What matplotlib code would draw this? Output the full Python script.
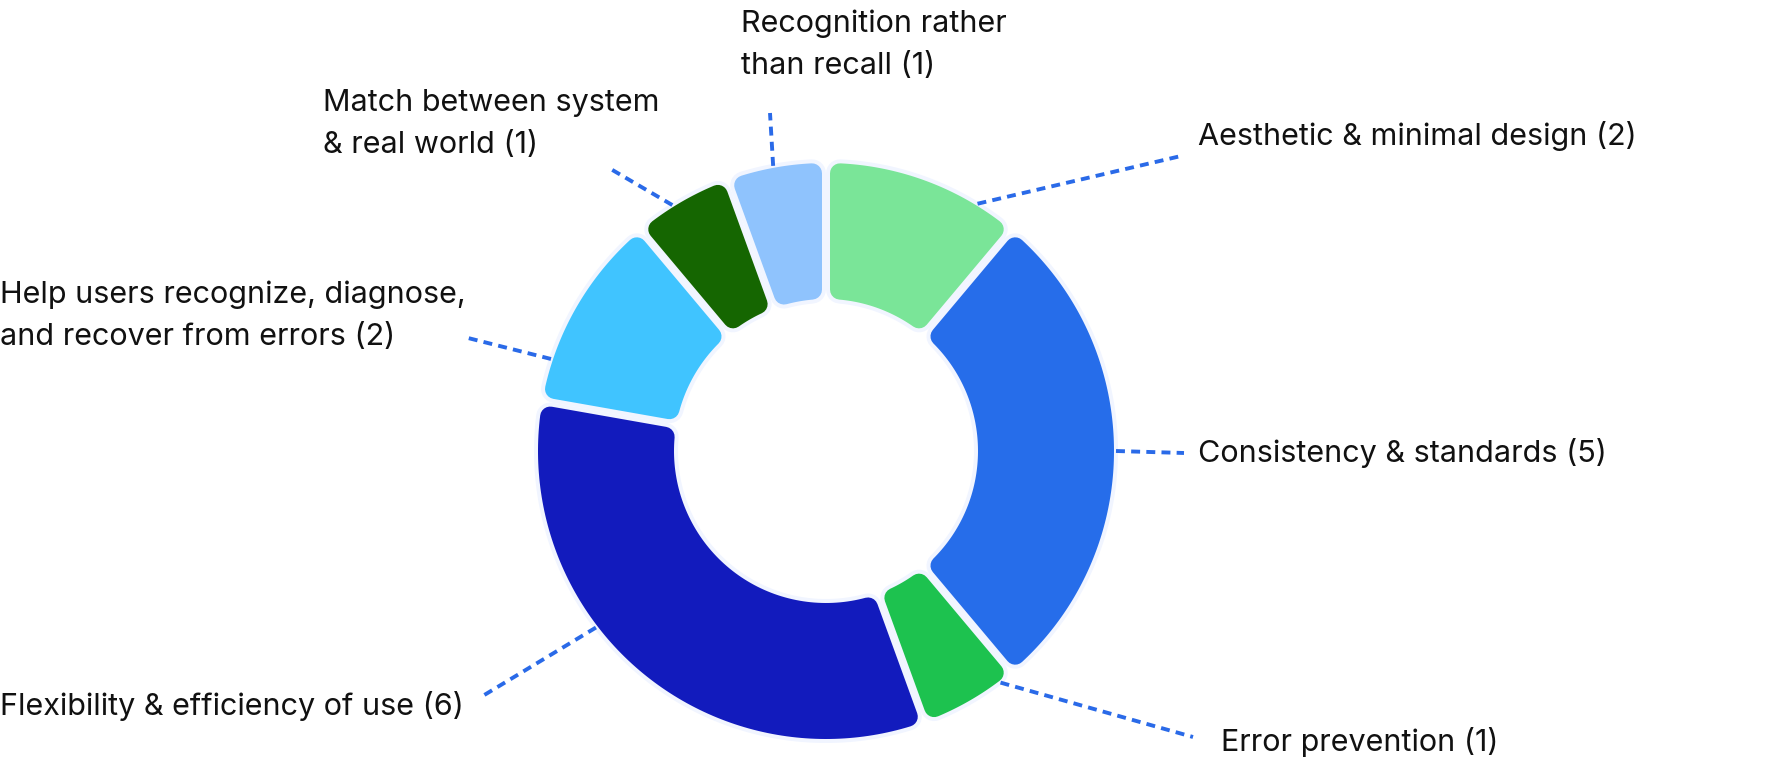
import numpy as np
import matplotlib
matplotlib.use("Agg")
import matplotlib.pyplot as plt
from matplotlib.patches import Polygon

# =============================
#  Data
# =============================
labels = [
    "Aesthetic & minimal design (2)",
    "Consistency & standards (5)",
    "Error prevention (1)",
    "Flexibility & efficiency of use (6)",
    "Help users recognize, diagnose,\nand recover from errors (2)",
    "Match between system\n& real world (1)",
    "Recognition rather\nthan recall (1)",
]
counts = [2, 5, 1, 6, 2, 1, 1]
colors = ["#7ae598", "#266dea", "#1dc24f", "#121bbd", "#40c4ff", "#156601", "#8fc3fd"]

# =============================
#  Layout (pixel space)
# =============================
W, H, DPI = 1776, 762, 100
CX, CY = 826, 451
R_OUT, R_IN = 288, 152
GAP = 8          # white/pale gap between slices
RC = 10          # corner radius
PALE_W = 4       # pale halo width
PALE = "#f1f5ff"
LEADER = "#2a6ae8"
PX2PT = 72 / DPI

# where each leader touches the ring (deg) and where it stops near the label
leader_angle = [58.5, 0, -53, 217.5, 161.5, 122, 100.5]
leader_end = [(1181, 156), (1184, 453), (1193, 737), (481, 697),
              (468, 338), (609, 168), (770, 113)]
label_xy = [(1198, 136), (1198, 453), (1221, 742), (0, 706),
            (0, 316), (323, 124), (741, 45)]


def pt(r, deg):
    a = np.radians(deg)
    return CX + r * np.cos(a), CY - r * np.sin(a)


def core_polygon(t1, t2):
    """shrunk slice outline, t1 > t2 (clockwise sweep)"""
    ro, ri, d = R_OUT - RC, R_IN + RC, GAP / 2 + RC
    ao = np.degrees(np.arcsin(d / ro))
    ai = np.degrees(np.arcsin(d / ri))
    outer = [pt(ro, t) for t in np.linspace(t1 - ao, t2 + ao, 120)]
    inner = [pt(ri, t) for t in np.linspace(t2 + ai, t1 - ai, 80)]
    return outer + inner


fig = plt.figure(figsize=(W / DPI, H / DPI), dpi=DPI)
ax = fig.add_axes([0, 0, 1, 1])
ax.set_xlim(0, W)
ax.set_ylim(H, 0)
ax.axis("off")

total = sum(counts)
starts, t = [], 90.0
for c in counts:
    starts.append((t, t - 360 * c / total))
    t -= 360 * c / total

polys = [core_polygon(a, b) for a, b in starts]
for p in polys:
    ax.add_patch(Polygon(p, closed=True, fc=PALE, ec=PALE,
                         lw=2 * (RC + PALE_W) * PX2PT, joinstyle="round", zorder=1))
for p, col in zip(polys, colors):
    ax.add_patch(Polygon(p, closed=True, fc=col, ec=col,
                         lw=2 * RC * PX2PT, joinstyle="round", zorder=2))

# leaders + labels
for lab, ang, end, xy in zip(labels, leader_angle, leader_end, label_xy):
    x0, y0 = pt(R_OUT + 2, ang)
    ax.plot([x0, end[0]], [y0, end[1]], color=LEADER, lw=2.8,
            linestyle=(0, (2.3, 1.6)), solid_capstyle="butt", zorder=3)
    ax.text(xy[0], xy[1], lab, ha="left", va="center", fontsize=22,
            family="Inter", color="#111111", linespacing=1.62, zorder=4)

fig.savefig("out.png", dpi=DPI, facecolor="white")
